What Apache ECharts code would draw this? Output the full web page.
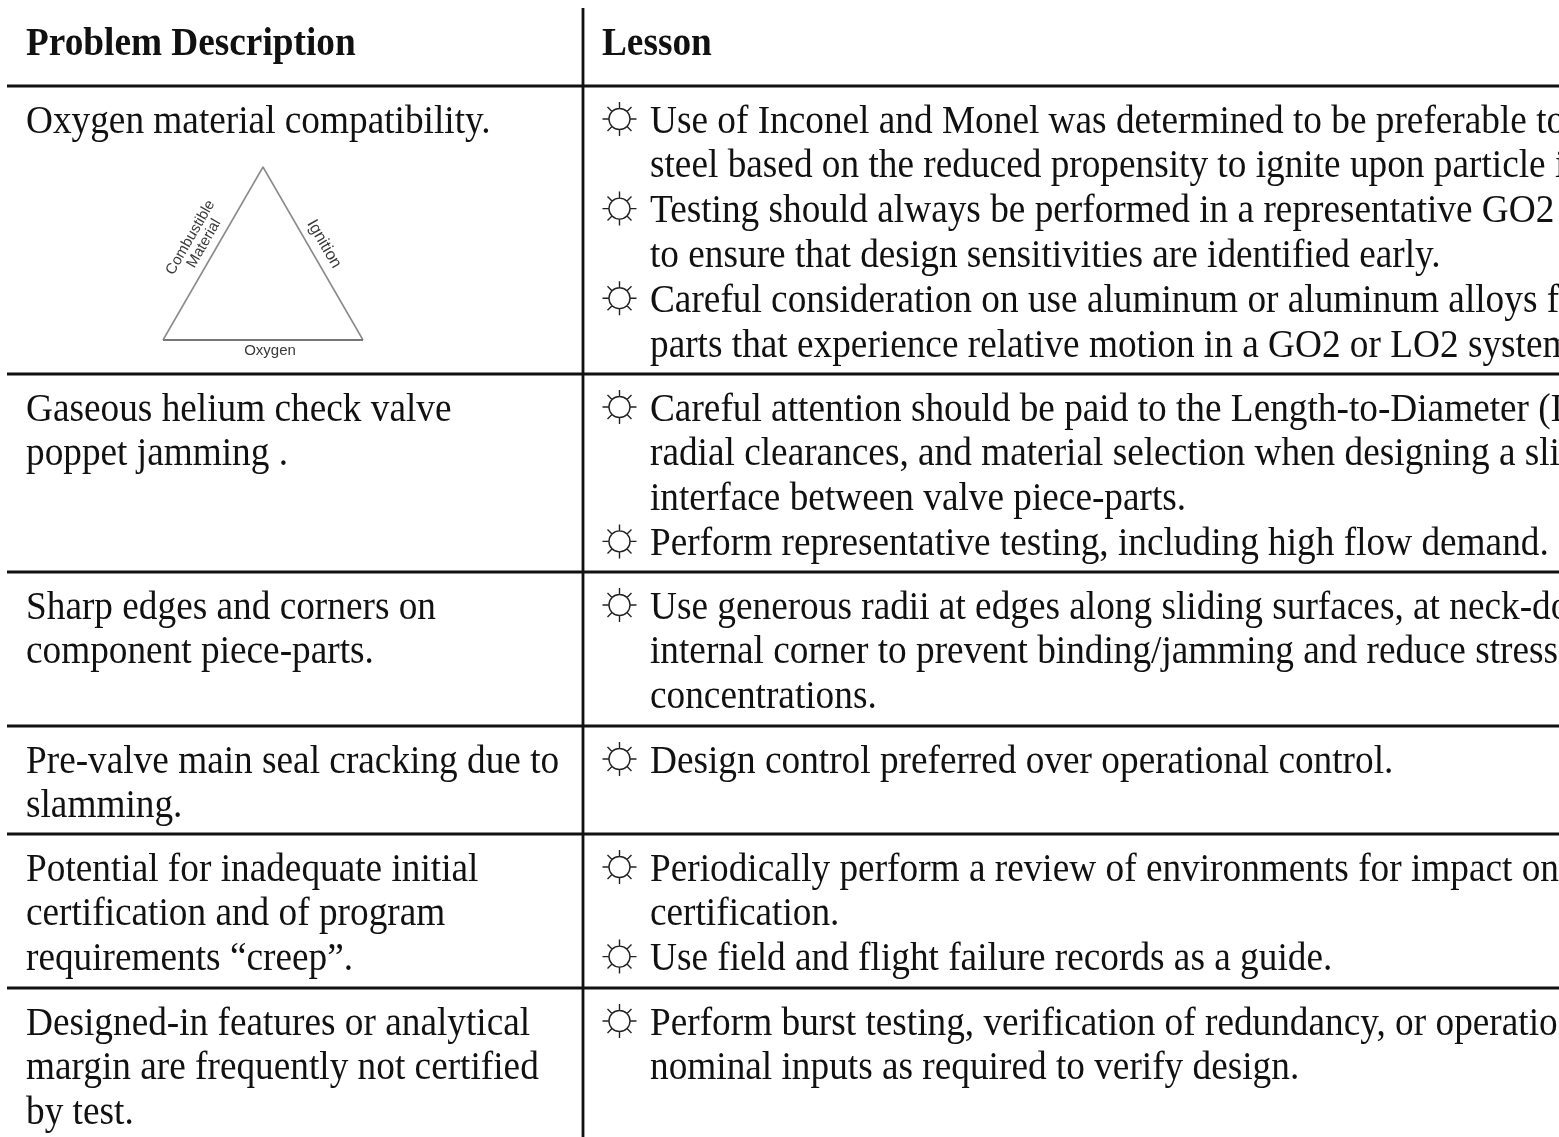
<!DOCTYPE html>
<html>
<head>
<meta charset="utf-8">
<title>Problem Description / Lesson</title>
<style>
  html, body { margin: 0; padding: 0; background: #fff; }
  #chart { width: 1559px; height: 1137px; }
</style>
<script src="https://cdn.jsdelivr.net/npm/echarts@6/dist/echarts.min.js"></script>
</head>
<body>
<div id="chart"></div>
<script>
  // table content
  const headers = ['Problem Description', 'Lesson'];
  const problems = [
    ['Oxygen material compatibility.'],
    ['Gaseous helium check valve', 'poppet jamming .'],
    ['Sharp edges and corners on', 'component piece-parts.'],
    ['Pre-valve main seal cracking due to', 'slamming.'],
    ['Potential for inadequate initial', 'certification and of program', 'requirements “creep”.'],
    ['Designed-in features or analytical', 'margin are frequently not certified', 'by test.']
  ];
  // one array per row, one inner array per bullet (the page cuts the long lines)
  const lessons = [
    [
      ['Use of Inconel and Monel was determined to be preferable to', 'steel based on the reduced propensity to ignite upon particle i'],
      ['Testing should always be performed in a representative GO2', 'to ensure that design sensitivities are identified early.'],
      ['Careful consideration on use aluminum or aluminum alloys f', 'parts that experience relative motion in a GO2 or LO2 system']
    ],
    [
      ['Careful attention should be paid to the Length-to-Diameter (L', 'radial clearances, and material selection when designing a sli', 'interface between valve piece-parts.'],
      ['Perform representative testing, including high flow demand.']
    ],
    [
      ['Use generous radii at edges along sliding surfaces, at neck-do', 'internal corner to prevent binding/jamming and reduce stress', 'concentrations.']
    ],
    [
      ['Design control preferred over operational control.']
    ],
    [
      ['Periodically perform a review of environments for impact on', 'certification.'],
      ['Use field and flight failure records as a guide.']
    ],
    [
      ['Perform burst testing, verification of redundancy, or operatio', 'nominal inputs as required to verify design.']
    ]
  ];

  // fire triangle inset
  const triangleLabels = ['Combustible', 'Material', 'Ignition', 'Oxygen'];

  // layout, in page pixels
  const W = 1559, H = 1137;
  const rowRules = [86, 374, 572, 726, 834, 988];
  const columnRule = 583;
  const tableLeft = 7, tableTop = 8;
  const problemX = 26, sunX = 619.5, lessonX = 650;
  const sunOffset = 33, textOffset = 36.4, lineStep = 44.8;
  const fontSize = 39, squeeze = 0.956;
  const ink = '#111';

  const rules = rowRules.map(y => [tableLeft, y, W, y]);
  rules.push([columnRule, tableTop, columnRule, H]);

  const bodyText = [];
  const suns = [];
  problems.forEach((lines, r) => {
    lines.forEach((t, i) => {
      bodyText.push([problemX, rowRules[r] + textOffset + i * lineStep, t]);
    });
  });
  lessons.forEach((bullets, r) => {
    let n = 0;
    bullets.forEach(lines => {
      suns.push([sunX, rowRules[r] + sunOffset + n * lineStep]);
      lines.forEach(t => {
        bodyText.push([lessonX, rowRules[r] + textOffset + n * lineStep, t]);
        n++;
      });
    });
  });

  const sunPath = 'path://M6.5 17a10.5 10.5 0 1 0 21 0a10.5 10.5 0 1 0 -21 0Z' +
    'M0 17L6.5 17M27.5 17L34 17M17 0L17 6.5M17 27.5L17 34' +
    'M5 5L9.5 9.5M29 5L24.5 9.5M5 29L9.5 24.5M29 29L24.5 24.5';

  let myChart = echarts.init(document.getElementById('chart'), null, { renderer: 'canvas' });
  myChart.setOption({
    animation: false,
    backgroundColor: '#fff',
    grid: { left: 0, right: 0, top: 0, bottom: 0 },
    xAxis: { type: 'value', min: 0, max: W, show: false },
    yAxis: { type: 'value', min: 0, max: H, inverse: true, show: false },
    series: [
      { // table rules
        type: 'custom',
        silent: true,
        clip: false,
        data: rules,
        renderItem(params, api) {
          const a = api.coord([api.value(0), api.value(1)]);
          const b = api.coord([api.value(2), api.value(3)]);
          return {
            type: 'line',
            shape: { x1: a[0], y1: a[1], x2: b[0], y2: b[1] },
            style: { stroke: ink, lineWidth: 2.8 }
          };
        }
      },
      { // headers
        type: 'custom',
        silent: true,
        data: [[problemX, 44.5], [602, 44.5]],
        renderItem(params, api) {
          const p = api.coord([api.value(0), api.value(1)]);
          return {
            type: 'text',
            x: p[0], y: p[1],
            scaleX: squeeze,
            style: {
              text: headers[params.dataIndex],
              font: 'bold ' + fontSize + 'px "Liberation Serif"',
              fill: ink, align: 'left', verticalAlign: 'middle'
            }
          };
        }
      },
      { // body text
        type: 'custom',
        silent: true,
        data: bodyText.map(d => [d[0], d[1]]),
        renderItem(params, api) {
          const p = api.coord([api.value(0), api.value(1)]);
          return {
            type: 'text',
            x: p[0], y: p[1],
            scaleX: squeeze,
            style: {
              text: bodyText[params.dataIndex][2],
              font: fontSize + 'px "Liberation Serif"',
              fill: ink, align: 'left', verticalAlign: 'middle'
            }
          };
        }
      },
      { // bullets
        type: 'scatter',
        silent: true,
        data: suns,
        symbol: sunPath,
        symbolSize: 34,
        itemStyle: { color: 'rgba(0,0,0,0)', borderColor: '#222', borderWidth: 1.4, opacity: 1 }
      },
      { // triangle
        type: 'line',
        silent: true,
        symbol: 'none',
        data: [[163, 340], [263, 167], [363, 340]],
        lineStyle: { color: '#8c8c8c', width: 1.6 }
      },
      {
        type: 'line',
        silent: true,
        symbol: 'none',
        data: [[163, 340], [363, 340]],
        lineStyle: { color: '#777', width: 2 }
      },
      { // triangle labels
        type: 'custom',
        silent: true,
        data: [[190.5, 237.5, 60, 15], [204, 243.5, 60, 15], [324, 244, -60, 16.5], [270, 350.5, 0, 15]],
        renderItem(params, api) {
          const p = api.coord([api.value(0), api.value(1)]);
          return {
            type: 'text',
            x: p[0], y: p[1],
            rotation: api.value(2) * Math.PI / 180,
            style: {
              text: triangleLabels[params.dataIndex],
              font: api.value(3) + 'px "Liberation Sans"',
              fill: '#3a3a3a', align: 'center', verticalAlign: 'middle'
            }
          };
        }
      }
    ]
  });
</script>
</body>
</html>
